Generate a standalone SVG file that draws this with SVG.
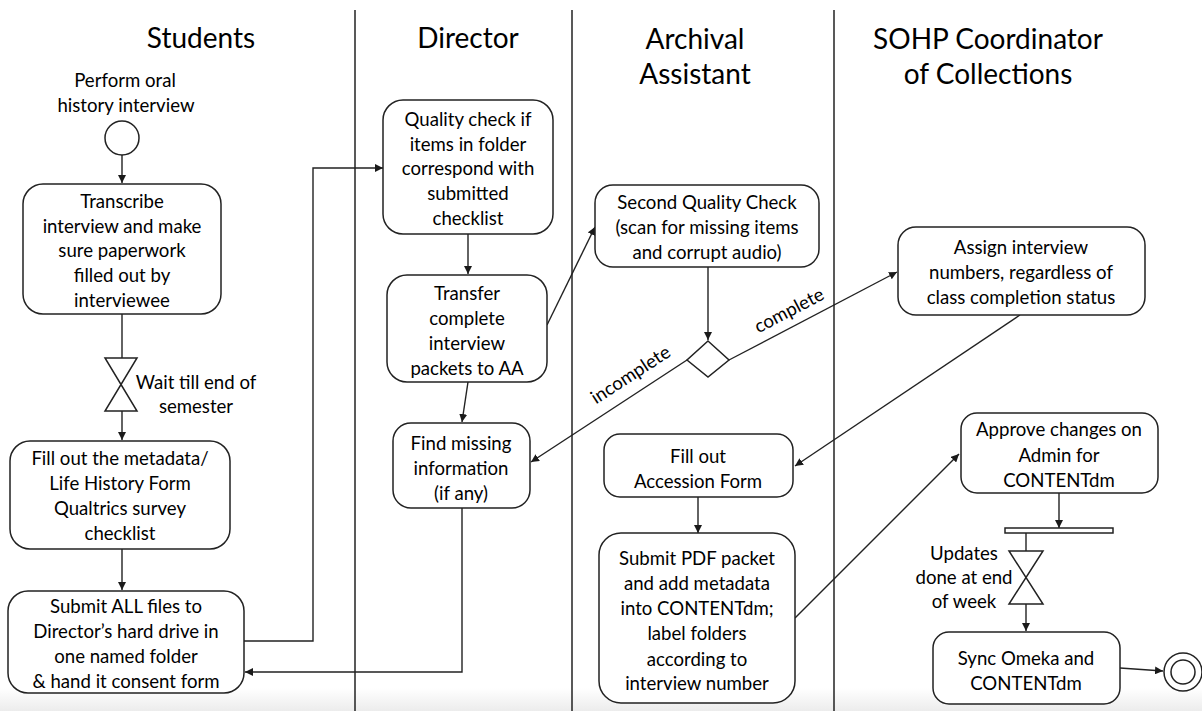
<svg xmlns="http://www.w3.org/2000/svg" width="1202" height="711" viewBox="0 0 1202 711">
  <defs>
    <marker id="arrow" viewBox="0 0 10 10" refX="10" refY="5" markerWidth="8" markerHeight="8" markerUnits="userSpaceOnUse" orient="auto">
      <path d="M0,0 L10,5 L0,10 z" fill="#1a1a1a"/>
    </marker>
    <linearGradient id="floor" x1="0" y1="0" x2="0" y2="1">
      <stop offset="0" stop-color="#ffffff"/>
      <stop offset="1" stop-color="#ececec"/>
    </linearGradient>
    <style>
      .lane { stroke: #222; stroke-width: 1.5; fill: none; }
      .box { fill: #fff; stroke: #222; stroke-width: 1.5; }
      .shape { fill: #fff; stroke: #222; stroke-width: 1.5; }
      .edge { fill: none; stroke: #222; stroke-width: 1.4; }
      .arr { marker-end: url(#arrow); }
      text { font-family: Lato, "Liberation Sans", sans-serif; fill: #000; }
      .head { font-size: 28px; text-anchor: middle; }
      .t { font-size: 18.6px; text-anchor: middle; }
    </style>
  </defs>

  <rect x="0" y="0" width="1202" height="711" fill="#fff"/>
  <rect x="0" y="688" width="1202" height="23" fill="url(#floor)"/>

  <!-- swimlane dividers and headings -->
  <g id="lanes">
    <line class="lane" x1="355" y1="10" x2="355" y2="711"/>
    <line class="lane" x1="572" y1="10" x2="572" y2="711"/>
    <line class="lane" x1="834" y1="10" x2="834" y2="711"/>
    <text class="head" x="201" y="48">Students</text>
    <text class="head" x="468" y="48">Director</text>
    <text class="head" x="695" y="49">Archival</text>
    <text class="head" x="695" y="84">Assistant</text>
    <text class="head" x="988" y="49">SOHP Coordinator</text>
    <text class="head" x="988" y="84">of Collections</text>
  </g>

  <!-- connectors -->
  <g id="connectors">
    <line class="edge arr" x1="122" y1="155" x2="122" y2="183"/>
    <line class="edge" x1="122" y1="314" x2="122" y2="358"/>
    <line class="edge arr" x1="122" y1="411" x2="122" y2="440"/>
    <line class="edge arr" x1="122" y1="549" x2="122" y2="590"/>
    <polyline class="edge arr" points="244,641 313,641 313,168 383,168"/>
    <line class="edge arr" x1="468" y1="234" x2="468" y2="274"/>
    <line class="edge arr" x1="468" y1="382" x2="462" y2="422"/>
    <polyline class="edge arr" points="462,508 462,672 245,672"/>
    <line class="edge arr" x1="547" y1="325" x2="595" y2="227"/>
    <line class="edge arr" x1="708" y1="267" x2="708" y2="340"/>
    <line class="edge arr" x1="687" y1="360" x2="531" y2="462"/>
    <line class="edge arr" x1="729" y1="360" x2="897" y2="272"/>
    <line class="edge arr" x1="1020" y1="315" x2="795" y2="466"/>
    <line class="edge arr" x1="698" y1="497" x2="698" y2="533"/>
    <line class="edge arr" x1="795" y1="618" x2="959" y2="454"/>
    <line class="edge arr" x1="1059" y1="493" x2="1059" y2="528"/>
    <line class="edge" x1="1026" y1="533" x2="1026" y2="551"/>
    <line class="edge arr" x1="1026" y1="604" x2="1026" y2="631"/>
    <line class="edge arr" x1="1120" y1="668" x2="1163" y2="671"/>
    <text class="t" transform="translate(634,380) rotate(-33)">incomplete</text>
    <text class="t" transform="translate(792,316) rotate(-27.6)">complete</text>
  </g>

  <!-- Students lane -->
  <g id="start">
    <text class="t" x="125" y="87">Perform oral</text>
    <text class="t" x="126" y="112">history interview</text>
    <circle class="shape" cx="122" cy="138" r="17"/>
  </g>
  <g id="transcribe">
    <rect class="box" x="23" y="184" width="198" height="130" rx="20"/>
    <text class="t" x="122" y="208">Transcribe</text>
    <text class="t" x="122" y="233">interview and make</text>
    <text class="t" x="122" y="257">sure paperwork</text>
    <text class="t" x="122" y="282">filled out by</text>
    <text class="t" x="122" y="307">interviewee</text>
  </g>
  <g id="wait-semester">
    <path class="shape" d="M105,358 L137,358 L105,411 L137,411 Z"/>
    <text class="t" x="196" y="389">Wait till end of</text>
    <text class="t" x="196" y="413">semester</text>
  </g>
  <g id="metadata">
    <rect class="box" x="10" y="441" width="220" height="108" rx="20"/>
    <text class="t" x="120" y="465">Fill out the metadata/</text>
    <text class="t" x="120" y="490">Life History Form</text>
    <text class="t" x="120" y="515">Qualtrics survey</text>
    <text class="t" x="120" y="540">checklist</text>
  </g>
  <g id="submit-files">
    <rect class="box" x="8" y="591" width="236" height="102" rx="20"/>
    <text class="t" x="126" y="613">Submit ALL files to</text>
    <text class="t" x="126" y="638">Director’s hard drive in</text>
    <text class="t" x="126" y="663">one named folder</text>
    <text class="t" x="126" y="688">&amp; hand it consent form</text>
  </g>

  <!-- Director lane -->
  <g id="quality-check">
    <rect class="box" x="383" y="100" width="170" height="134" rx="20"/>
    <text class="t" x="468" y="126">Quality check if</text>
    <text class="t" x="468" y="151">items in folder</text>
    <text class="t" x="468" y="175">correspond with</text>
    <text class="t" x="468" y="200">submitted</text>
    <text class="t" x="468" y="225">checklist</text>
  </g>
  <g id="transfer">
    <rect class="box" x="387" y="275" width="160" height="107" rx="20"/>
    <text class="t" x="467" y="300">Transfer</text>
    <text class="t" x="467" y="325">complete</text>
    <text class="t" x="467" y="350">interview</text>
    <text class="t" x="467" y="375">packets to AA</text>
  </g>
  <g id="find-missing">
    <rect class="box" x="393" y="423" width="137" height="85" rx="18"/>
    <text class="t" x="461" y="450">Find missing</text>
    <text class="t" x="461" y="475">information</text>
    <text class="t" x="461" y="500">(if any)</text>
  </g>

  <!-- Archival Assistant lane -->
  <g id="second-check">
    <rect class="box" x="595" y="185" width="224" height="82" rx="18"/>
    <text class="t" x="707" y="209">Second Quality Check</text>
    <text class="t" x="707" y="234">(scan for missing items</text>
    <text class="t" x="707" y="259">and corrupt audio)</text>
  </g>
  <g id="decision">
    <path class="shape" d="M708,341 L729,360 L708,377 L687,360 Z"/>
  </g>
  <g id="accession">
    <rect class="box" x="604" y="434" width="189" height="63" rx="16"/>
    <text class="t" x="698" y="463">Fill out</text>
    <text class="t" x="698" y="488">Accession Form</text>
  </g>
  <g id="submit-pdf">
    <rect class="box" x="599" y="533" width="196" height="170" rx="22"/>
    <text class="t" x="697" y="565">Submit PDF packet</text>
    <text class="t" x="697" y="590">and add metadata</text>
    <text class="t" x="697" y="615">into CONTENTdm;</text>
    <text class="t" x="697" y="640">label folders</text>
    <text class="t" x="697" y="666">according to</text>
    <text class="t" x="697" y="690">interview number</text>
  </g>

  <!-- SOHP Coordinator lane -->
  <g id="assign-numbers">
    <rect class="box" x="898" y="227" width="247" height="88" rx="18"/>
    <text class="t" x="1021" y="254">Assign interview</text>
    <text class="t" x="1021" y="279">numbers, regardless of</text>
    <text class="t" x="1021" y="304">class completion status</text>
  </g>
  <g id="approve">
    <rect class="box" x="961" y="413" width="197" height="80" rx="16"/>
    <text class="t" x="1059" y="436">Approve changes on</text>
    <text class="t" x="1059" y="462">Admin for</text>
    <text class="t" x="1059" y="487">CONTENTdm</text>
  </g>
  <g id="fork-bar">
    <rect class="shape" x="1005" y="528" width="108" height="5"/>
  </g>
  <g id="wait-week">
    <path class="shape" d="M1009,551 L1043,551 L1009,604 L1043,604 Z"/>
    <text class="t" x="964" y="560">Updates</text>
    <text class="t" x="964" y="584">done at end</text>
    <text class="t" x="964" y="608">of week</text>
  </g>
  <g id="sync">
    <rect class="box" x="933" y="632" width="187" height="72" rx="16"/>
    <text class="t" x="1026" y="665">Sync Omeka and</text>
    <text class="t" x="1026" y="690">CONTENTdm</text>
  </g>
  <g id="end">
    <circle class="shape" cx="1183" cy="672" r="19"/>
    <circle class="shape" cx="1183" cy="672" r="12"/>
  </g>
</svg>
